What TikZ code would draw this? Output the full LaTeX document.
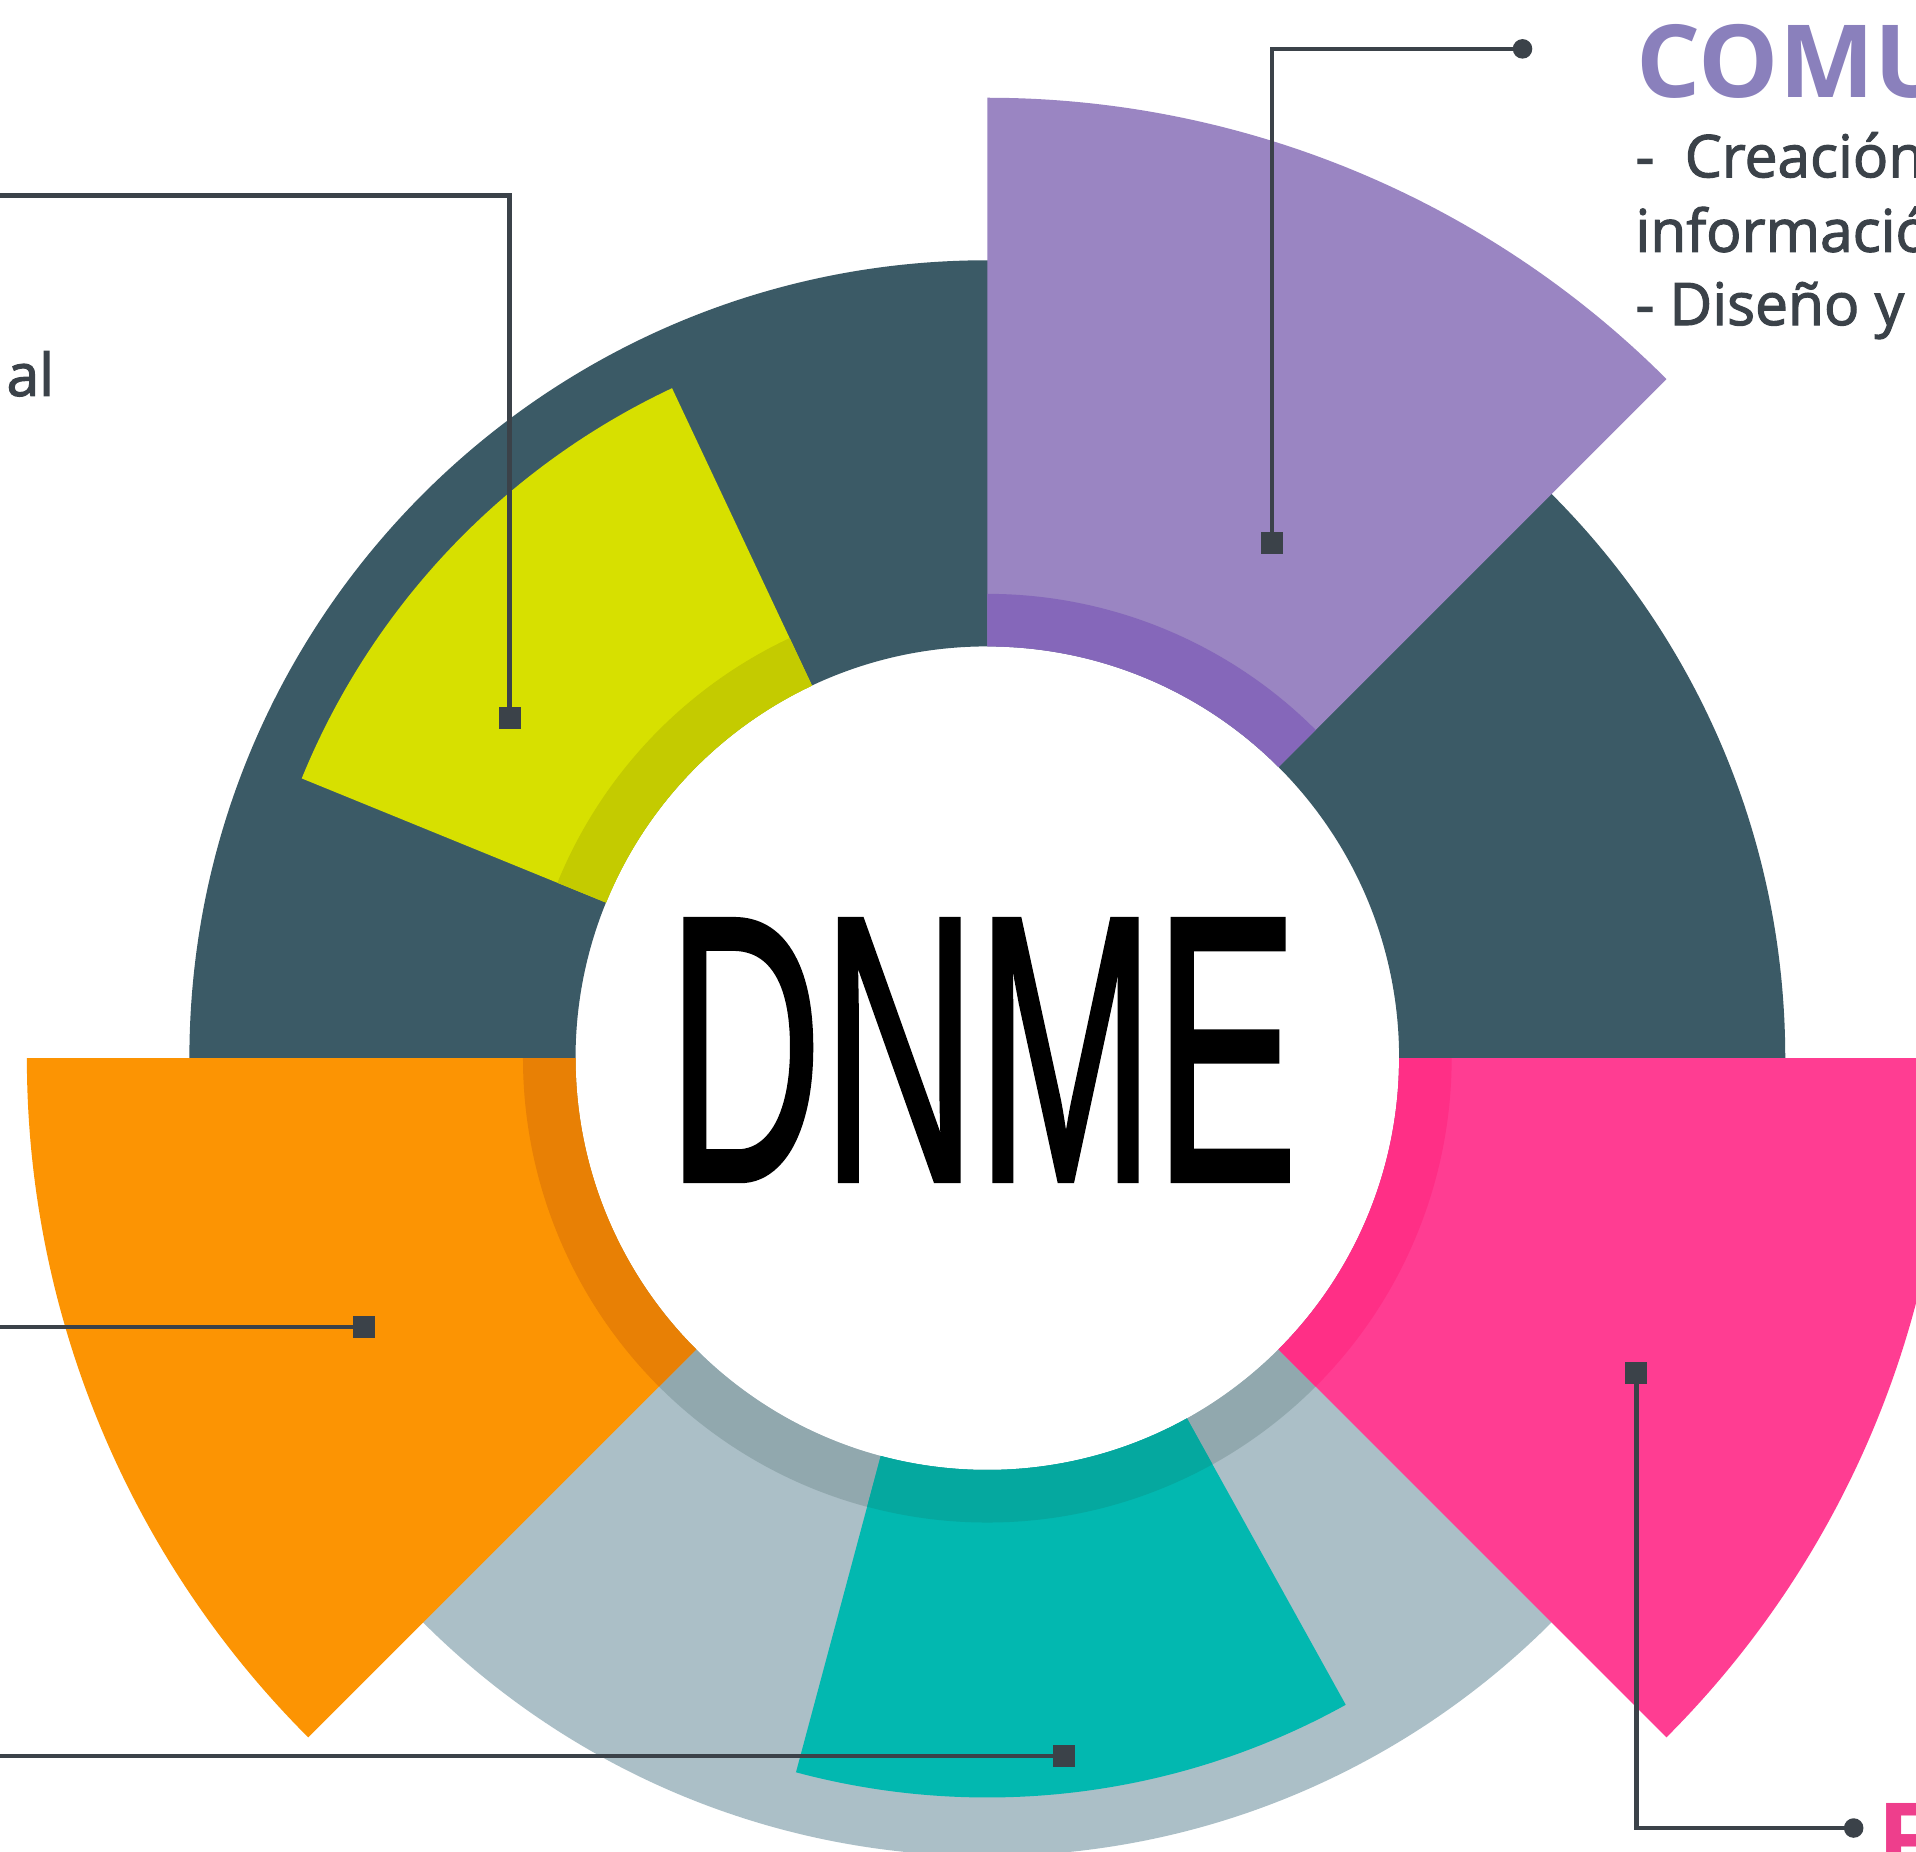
\documentclass[tikz,border=0pt]{standalone}
\usepackage{fontspec}
\usepackage{graphicx}
\usepackage{xcolor}
\usepackage{tikz}
\usetikzlibrary{positioning}
\setmainfont{Liberation Sans}
\newfontfamily\headfont{Open Sans}
\newfontfamily\bodyfont{Open Sans}[FakeBold=2]
\newfontfamily\dnmefont{Liberation Sans}[FakeBold=1.5]
\definecolor{ringdark}{HTML}{3B5A66}
\definecolor{ringlight}{HTML}{ABBFC7}
\definecolor{ringband}{HTML}{91A8AE}
\definecolor{lila}{HTML}{9A85C2}
\definecolor{lilaband}{HTML}{8567BA}
\definecolor{lima}{HTML}{D7E000}
\definecolor{limaband}{HTML}{C4CB00}
\definecolor{naranja}{HTML}{FC9403}
\definecolor{naranjaband}{HTML}{E88005}
\definecolor{turquesa}{HTML}{02B8B0}
\definecolor{turquesaband}{HTML}{05A89F}
\definecolor{rosa}{HTML}{FF3D92}
\definecolor{rosaband}{HTML}{FF2F86}
\definecolor{linea}{HTML}{3B4249}
\definecolor{titlila}{HTML}{8A80BC}
\definecolor{titrosa}{HTML}{EE3E8C}
% ring piece: colour, start angle, end angle, outer radius
\newcommand{\ringpart}[4]{\fill[#1] (#2:337) -- (#2:#4) arc[start angle=#2, end angle=#3, radius=#4] -- (#3:337) arc[start angle=#3, end angle=#2, radius=337] -- cycle;}

\begin{document}
\begin{tikzpicture}[x=0.5pt,y=0.5pt,
conector/.style={draw=linea,line width=1.9pt},
cuadro/.style={fill=linea,inner sep=0pt,minimum size=9pt},
punto/.style={circle,fill=linea,inner sep=0pt,minimum size=8pt},
cuerpo/.style={anchor=base west,inner sep=0pt,text=linea,font=\bodyfont\fontsize{24}{30}\selectfont},
titulo/.style={anchor=base west,inner sep=0pt,font=\headfont\bfseries\fontsize{41.3}{45}\selectfont}]
\fill[white] (-808,-649) rectangle (760,866);
\useasboundingbox (-808,-649) rectangle (760,866);
% ring
\ringpart{ringdark}{0}{180}{653}
\ringpart{ringlight}{180}{360}{653}
\ringpart{ringband}{180}{360}{380}
% sectors
\ringpart{lila}{45}{90}{786}
\ringpart{lilaband}{45}{90}{380}
\ringpart{lima}{115.2}{157.8}{606}
\ringpart{limaband}{115.2}{157.8}{380}
\ringpart{naranja}{180}{225}{786}
\ringpart{naranjaband}{180}{225}{380}
\ringpart{turquesa}{255}{299}{605}
\ringpart{turquesaband}{255}{299}{380}
\ringpart{rosa}{315}{360}{786}
\ringpart{rosaband}{315}{360}{380}
% centre
\node[inner sep=0pt,anchor=base,font=\dnmefont\fontsize{155}{155}\selectfont] (dnme) at (-4,-100) {\scalebox{0.565}[1]{DNME}};
% connectors
\node[cuadro] (sqLila) at (233,422) {};
\node[punto] (dotLila) at (438,826) {};
\node[cuadro] (sqLima) at (-391,278) {};
\coordinate (endLima) at (-815,706);
\node[cuadro] (sqNaranja) at (-510,-220) {};
\coordinate (endNaranja) at (-815,-220);
\node[cuadro] (sqTurquesa) at (63,-571) {};
\coordinate (endTurquesa) at (-815,-571);
\node[cuadro] (sqRosa) at (531,-258) {};
\node[punto] (dotRosa) at (709,-630) {};
\draw[conector] (sqLila.center) |- (dotLila.center);
\draw[conector] (sqLima.center) |- (endLima);
\draw[conector] (sqNaranja.center) -- (endNaranja);
\draw[conector] (sqTurquesa.center) -- (endTurquesa);
\draw[conector] (sqRosa.center) |- (dotRosa.center);
% texts
\node[titulo,text=titlila] (comu) at (531,786.6) {COMU};
\node[cuerpo] (linea1) at (530,721) {-\ \ Creación};
\node[cuerpo] (linea2) at (530,660) {informació};
\node[cuerpo] (linea3) at (530,600) {- Diseño y};
\node[cuerpo] (al) at (-803,542) {al};
\node[titulo,text=titrosa] (efe) at (728,-669) {F};
\end{tikzpicture}
\end{document}
